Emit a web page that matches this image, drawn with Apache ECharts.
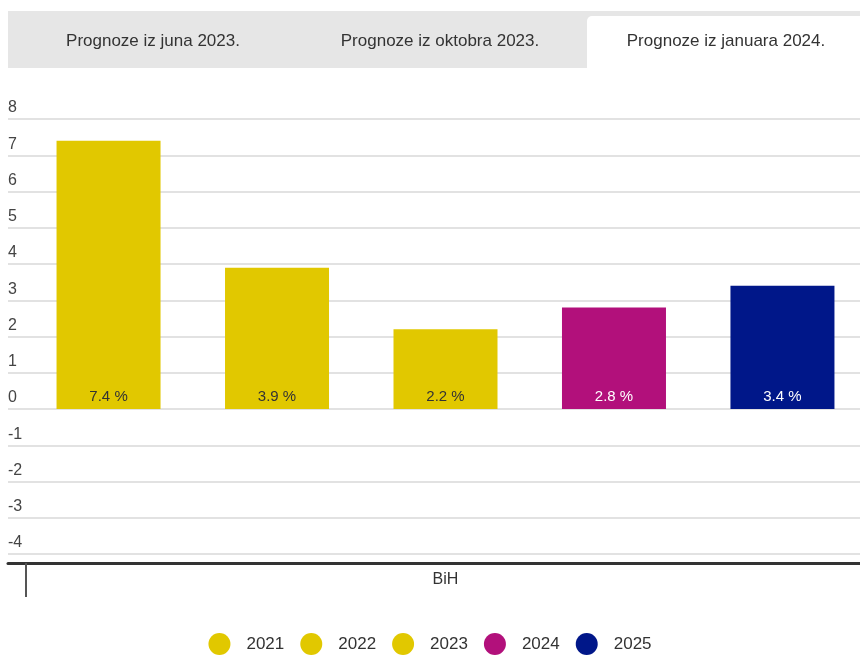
<!DOCTYPE html>
<html>
<head>
<meta charset="utf-8">
<script src="https://cdn.jsdelivr.net/npm/echarts@6/dist/echarts.min.js"></script>
<style>
html,body{margin:0;padding:0;background:#fff;}
#chart{width:860px;height:655px;}
</style>
</head>
<body>
<div id="chart"></div>
<script>
const categories = ['BiH'];
const seriesNames = ['2021', '2022', '2023', '2024', '2025'];
const seriesValues = [7.4, 3.9, 2.2, 2.8, 3.4];
const seriesColors = ['#e1c800', '#e1c800', '#e1c800', '#b2107b', '#001789'];
const labelColors = ['#333333', '#333333', '#333333', '#ffffff', '#ffffff'];
const tabLabels = ['Prognoze iz juna 2023.', 'Prognoze iz oktobra 2023.', 'Prognoze iz januara 2024.'];
const yMin = -4, yMax = 8, yStep = 1;

const FONT = '"Liberation Sans", Arial, sans-serif';
const chart = echarts.init(document.getElementById('chart'), null, {renderer: 'canvas'});

const series = seriesNames.map((name, i) => ({
  name: name,
  type: 'bar',
  xAxisIndex: 0,
  yAxisIndex: 0,
  barWidth: 104,
  barGap: '62%',
  itemStyle: {color: seriesColors[i]},
  label: {
    show: true,
    position: 'insideBottom',
    distance: 5,
    color: labelColors[i],
    fontFamily: FONT,
    fontSize: 15,
    formatter: p => p.value.toFixed(1) + ' %'
  },
  data: [seriesValues[i]]
}));

const tabCenters = [153, 440, 726];
const graphic = [
  {type: 'rect', shape: {x: 8, y: 11, width: 852, height: 57}, style: {fill: '#e6e6e6'}, silent: true, z: -10},
  {type: 'rect', shape: {x: 587, y: 16, width: 273, height: 52, r: [5, 0, 0, 0]}, style: {fill: '#ffffff'}, silent: true, z: -9}
].concat(tabLabels.map((t, i) => ({
  type: 'text',
  x: tabCenters[i], y: 41,
  style: {text: t, fill: '#333333', font: '17px ' + FONT, textAlign: 'center', textVerticalAlign: 'middle'},
  silent: true
})));

chart.setOption({
  animation: false,
  backgroundColor: '#ffffff',
  textStyle: {fontFamily: FONT},
  graphic: graphic,
  grid: [
    {left: 26, width: 839, top: 119, bottom: 101, containLabel: false, outerBoundsMode: 'none'},
    {left: 8, right: 0, top: 119, bottom: 101, containLabel: false, outerBoundsMode: 'none'}
  ],
  legend: {
    data: seriesNames,
    icon: 'circle',
    itemWidth: 22,
    itemHeight: 22,
    itemGap: 16,
    left: 'center',
    top: 628,
    textStyle: {color: '#333333', fontSize: 17, fontFamily: FONT, padding: [0, 0, 0, 11]}
  },
  xAxis: [
    {
      type: 'category', gridIndex: 0, data: categories, offset: 9,
      axisLine: {show: false, onZero: false},
      axisTick: {show: true, length: 34, lineStyle: {color: '#555555', width: 2}},
      axisLabel: {color: '#333333', fontSize: 16, margin: 9, fontFamily: FONT},
      splitLine: {show: false}
    },
    {
      type: 'category', gridIndex: 1, data: categories, offset: 9,
      axisLine: {show: true, onZero: false, lineStyle: {color: '#333333', width: 3}},
      axisTick: {show: false},
      axisLabel: {show: false},
      splitLine: {show: false}
    }
  ],
  yAxis: [
    {type: 'value', gridIndex: 0, min: yMin, max: yMax, interval: yStep, show: false, splitLine: {show: false}},
    {
      type: 'value', gridIndex: 1, min: yMin, max: yMax, interval: yStep,
      axisLine: {show: false}, axisTick: {show: false},
      splitLine: {show: true, lineStyle: {color: '#e2e2e2', width: 2}},
      axisLabel: {
        inside: true, margin: 0, align: 'left', verticalAlign: 'bottom',
        color: '#444444', fontSize: 16, lineHeight: 16, padding: [0, 0, 3, 0], fontFamily: FONT
      }
    }
  ],
  series: series
});
</script>
</body>
</html>
